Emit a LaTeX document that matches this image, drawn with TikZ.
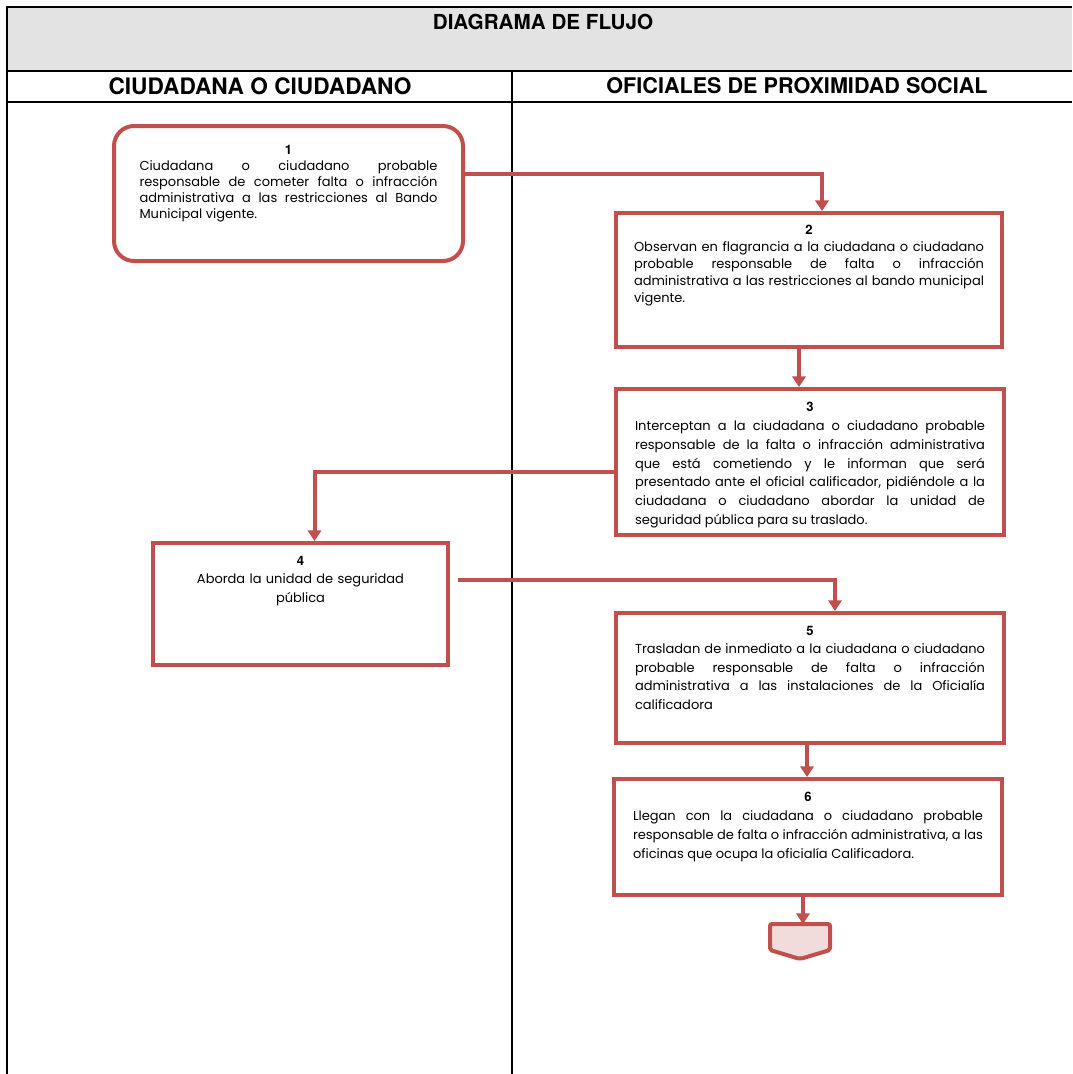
\documentclass[tikz,border=0pt]{standalone}
\usepackage{fontspec}
\setmainfont{Poppins}
\newfontfamily\cabfont{TeX Gyre Heros}
\usetikzlibrary{arrows.meta,calc}
\definecolor{rojo}{HTML}{C0504D}
\definecolor{rosa}{HTML}{F2DCDB}
\definecolor{gris}{HTML}{E3E3E3}

\begin{document}
\begin{tikzpicture}[x=0.75pt, y=-0.75pt, >={Triangle[width=10pt,length=8pt]},
		caja/.style={draw=rojo, line width=3pt, fill=white, anchor=north west, inner sep=0pt},
		texto/.style={anchor=north, align=justify, inner sep=0pt, font=\fontsize{9.75}{13.8}\selectfont},
		flecha/.style={draw=rojo, line width=3pt, ->},
		titulo/.style={font=\cabfont\bfseries\fontsize{15.5}{18}\selectfont}]
		\useasboundingbox (0,0) rectangle (1072,1074);
		% table
		\fill[gris] (7,7) rectangle (1072,71);
		\draw[line width=1pt] (7,1074) -- (7,7) -- (1072,7);
		\draw[line width=1pt] (7,71) -- (1072,71);
		\draw[line width=1pt] (7,102) -- (1072,102);
		\draw[line width=0.8pt] (512,71) -- (512,1074);
		\node[titulo] (tit) at (543,22) {DIAGRAMA DE FLUJO};
		\node[titulo, font=\cabfont\bfseries\fontsize{17}{18}\selectfont] (col1) at (260,86) {CIUDADANA O CIUDADANO};
		\node[titulo, font=\cabfont\bfseries\fontsize{16.2}{18}\selectfont] (col2) at (797,86) {OFICIALES DE PROXIMIDAD SOCIAL};
		% boxes
		\node[caja, rounded corners=15pt, minimum width=261.75pt, minimum height=101.25pt] (b1) at (112,124) {};
		\node[caja, minimum width=289.5pt, minimum height=100.5pt] (b2) at (614,211) {};
		\node[caja, minimum width=291pt, minimum height=109.5pt] (b3) at (614,387) {};
		\node[caja, minimum width=221.25pt, minimum height=91.5pt] (b4) at (151,541) {};
		\node[caja, minimum width=291pt, minimum height=97.5pt] (b5) at (614,611) {};
		\node[caja, minimum width=291pt, minimum height=87pt] (b6) at (612,777) {};
		% texts
		\node[texto, text width=223.5pt, font=\fontsize{9.75}{12}\selectfont] (t1) at ($(b1.north)+(0,21)$)
			{{\centering\cabfont\bfseries 1\par}Ciudadana o ciudadano probable\linebreak responsable de cometer falta o infracción\linebreak administrativa a las restricciones al Bando\linebreak Municipal vigente.};
		\node[texto, text width=262.5pt, font=\fontsize{9.75}{12.8}\selectfont] (t2) at ($(b2.north)+(0,14)$)
			{{\centering\cabfont\bfseries 2\par}Observan en flagrancia a la ciudadana o ciudadano\linebreak probable responsable de falta o infracción\linebreak administrativa a las restricciones al bando municipal\linebreak vigente.};
		\node[texto, text width=262.5pt, font=\fontsize{9.75}{14.1}\selectfont] (t3) at ($(b3.north)+(0,15)$)
			{{\centering\cabfont\bfseries 3\par}Interceptan a la ciudadana o ciudadano probable\linebreak responsable de la falta o infracción administrativa\linebreak que está cometiendo y le informan que será\linebreak presentado ante el oficial calificador, pidiéndole a la\linebreak ciudadana o ciudadano abordar la unidad de\linebreak seguridad pública para su traslado.};
		\node[texto, text width=180pt, align=center] (t4) at ($(b4.north)+(0,15)$)
			{{\cabfont\bfseries 4}\\Aborda la unidad de seguridad\\pública};
		\node[texto, text width=262.5pt] (t5) at ($(b5.north)+(0,15)$)
			{{\centering\cabfont\bfseries 5\par}Trasladan de inmediato a la ciudadana o ciudadano\linebreak probable responsable de falta o infracción\linebreak administrativa a las instalaciones de la Oficialía\linebreak calificadora};
		\node[texto, text width=262.5pt, font=\fontsize{9.75}{14.1}\selectfont] (t6) at ($(b6.north)+(0,15)$)
			{{\centering\cabfont\bfseries 6\par}Llegan con la ciudadana o ciudadano probable\linebreak responsable de falta o infracción administrativa, a las\linebreak oficinas que ocupa la oficialía Calificadora.};
		% off-page connector
		\coordinate (fin) at (800,924);
		\draw[rojo, line width=3pt, fill=rosa, rounded corners=1.5pt] (770,924) -- (830,924) -- (830,950) -- (800,959) -- (770,950) -- cycle;
		% connectors
		\draw[flecha] ($(b1.east)+(0,-20)$) -| ($(b2.north)+(13,0)$);
		\coordinate (s2) at ($(b2.south)+(-10,0)$);
		\draw[flecha] (s2) -- (s2 |- b3.north);
		\draw[flecha] ($(b3.west)+(0,10)$) -| ($(b4.north)+(14,0)$);
		\draw[flecha] ($(b4.east)+(8,-24)$) -| ($(b5.north)+(25,0)$);
		\coordinate (s5) at ($(b5.south)+(-3,0)$);
		\draw[flecha] (s5) -- (s5 |- b6.north);
		\coordinate (s6) at ($(b6.south)+(-5,0)$);
		\draw[flecha] (s6) -- (s6 |- fin);
	\end{tikzpicture}
\end{document}
